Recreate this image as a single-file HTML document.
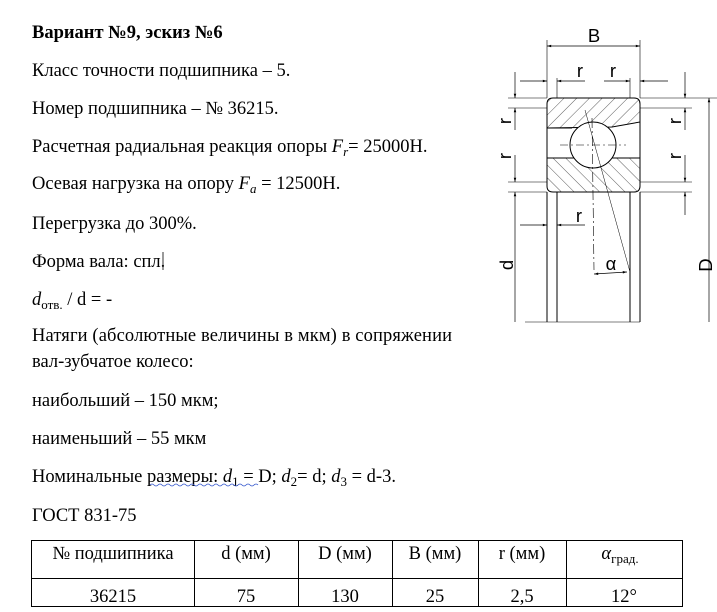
<!DOCTYPE html>
<html><head><meta charset="utf-8"><style>
html,body{margin:0;padding:0;background:#fff;width:717px;height:612px;overflow:hidden}
svg{display:block}
text{font-family:"Liberation Serif",serif;font-size:18.5px;fill:#000}
.s{font-family:"Liberation Sans",sans-serif}
</style></head><body>
<svg width="717" height="612" viewBox="0 0 717 612" xmlns="http://www.w3.org/2000/svg">
<defs>
<pattern id="h" patternUnits="userSpaceOnUse" width="9" height="9" patternTransform="rotate(45)">
<line x1="0" y1="0" x2="0" y2="9" stroke="#333" stroke-width="0.8"/></pattern>
<pattern id="h2" patternUnits="userSpaceOnUse" width="9" height="9" patternTransform="rotate(-45)">
<line x1="0" y1="0" x2="0" y2="9" stroke="#333" stroke-width="0.8"/></pattern>
<marker id="a" viewBox="0 0 10 10" refX="10" refY="5" markerWidth="8" markerHeight="6" orient="auto-start-reverse"><path d="M0,2 L10,5 L0,8z" fill="#000"/></marker>
</defs>
<text x="32" y="38" font-weight="bold">Вариант №9, эскиз №6</text>
<text x="32" y="76">Класс точности подшипника – 5.</text>
<text x="32" y="114">Номер подшипника –  № 36215.</text>
<text x="32" y="152">Расчетная радиальная реакция опоры <tspan font-style="italic">F<tspan font-size="13" dy="4">r</tspan></tspan><tspan dy="-4">= 25000Н.</tspan></text>
<text x="32" y="189">Осевая нагрузка на опору <tspan font-style="italic">F<tspan font-size="13" dy="4">a</tspan></tspan><tspan dy="-4"> = 12500Н.</tspan></text>
<text x="32" y="229">Перегрузка до 300%.</text>
<text x="32" y="267">Форма вала: спл.</text>
<line x1="163" y1="252" x2="163" y2="270" stroke="#000" stroke-width="0.8"/>
<text x="32" y="305"><tspan font-style="italic">d</tspan><tspan font-size="13" dy="4">отв.</tspan><tspan dy="-4"> / d = -</tspan></text>
<text x="32" y="341" textLength="420" lengthAdjust="spacing">Натяги (абсолютные величины в мкм) в сопряжении</text>
<text x="32" y="367">вал-зубчатое колесо:</text>
<text x="32" y="406">наибольший – 150 мкм;</text>
<text x="32" y="444">наименьший – 55 мкм</text>
<text x="32" y="482">Номинальные размеры: <tspan font-style="italic">d</tspan><tspan font-size="13" dy="4">1</tspan><tspan dy="-4"> = D; </tspan><tspan font-style="italic">d</tspan><tspan font-size="13" dy="4">2</tspan><tspan dy="-4">= d; </tspan><tspan font-style="italic">d</tspan><tspan font-size="13" dy="4">3</tspan><tspan dy="-4">  = d-3.</tspan></text>
<path d="M150,485 q2,-2 4,0 t4,0 t4,0 t4,0 t4,0 t4,0 t4,0 t4,0 t4,0 t4,0 t4,0 t4,0 t4,0 t4,0 t4,0 t4,0 t4,0 t4,0 t4,0 t4,0 t4,0 t4,0 t4,0 t4,0 t4,0 t4,0 t4,0" stroke="#3355cc" fill="none" stroke-width="0.8"/>
<text x="32" y="521">ГОСТ 831-75</text>
<g stroke="#000" stroke-width="1" fill="none">
<rect x="31.5" y="540.5" width="651" height="66"/>
<line x1="31" y1="578.5" x2="682" y2="578.5"/>
<line x1="194.5" y1="540" x2="194.5" y2="607"/>
<line x1="298.5" y1="540" x2="298.5" y2="607"/>
<line x1="392.5" y1="540" x2="392.5" y2="607"/>
<line x1="478.5" y1="540" x2="478.5" y2="607"/>
<line x1="566.5" y1="540" x2="566.5" y2="607"/>
</g>
<g text-anchor="middle">
<text x="113" y="559">№ подшипника</text><text x="246" y="559">d (мм)</text><text x="345" y="559">D (мм)</text><text x="435" y="559">B (мм)</text><text x="522" y="559">r (мм)</text>
<text x="620" y="559"><tspan font-style="italic">α</tspan><tspan font-size="13" dy="4">град.</tspan></text>
<text x="113" y="602">36215</text><text x="246" y="602">75</text><text x="345" y="602">130</text><text x="435" y="602">25</text><text x="522" y="602">2,5</text><text x="624" y="602">12°</text>
</g>
<!-- bearing drawing -->
<g stroke="#000" stroke-width="1" fill="none">
<path d="M547,128 L547,104 Q547,98 553,98 L634,98 Q640,98 640,104 L640,122 L612,127 L547,128 Z" fill="url(#h)"/>
<path d="M547,158 L640,158 L640,186 Q640,192 634,192 L553,192 Q547,192 547,186 Z" fill="url(#h2)"/>
<circle cx="593" cy="145" r="23" fill="#fff"/>
<line x1="547" y1="128" x2="547" y2="158"/>
<line x1="547" y1="128" x2="572" y2="128"/>
<line x1="640" y1="122" x2="640" y2="158"/>
<line x1="547" y1="192" x2="547" y2="322"/><line x1="557" y1="192" x2="557" y2="322"/>
<line x1="630" y1="192" x2="630" y2="322"/><line x1="640" y1="192" x2="640" y2="322"/>
<line x1="547" y1="98" x2="547" y2="40" stroke-width="0.6"/><line x1="640" y1="98" x2="640" y2="40" stroke-width="0.6"/>
<line x1="557" y1="98" x2="557" y2="78" stroke-width="0.6"/><line x1="630" y1="98" x2="630" y2="78" stroke-width="0.6"/>
<line x1="560" y1="145" x2="626" y2="145" stroke-width="0.6" stroke-dasharray="8,3,2,3"/>
<line x1="592" y1="118" x2="594" y2="270" stroke-width="0.6" stroke-dasharray="10,3,2,3"/>
<line x1="585" y1="110" x2="630" y2="272" stroke-width="0.5"/>
<line x1="547" y1="46" x2="640" y2="46" stroke-width="0.7" marker-start="url(#a)" marker-end="url(#a)"/>
<line x1="520" y1="81" x2="547" y2="81" stroke-width="0.7" marker-end="url(#a)"/>
<line x1="585" y1="81" x2="557" y2="81" stroke-width="0.7" marker-end="url(#a)"/>
<line x1="604" y1="81" x2="630" y2="81" stroke-width="0.7" marker-end="url(#a)"/>
<line x1="668" y1="81" x2="640" y2="81" stroke-width="0.7" marker-end="url(#a)"/>
<line x1="520" y1="225" x2="547" y2="225" stroke-width="0.7" marker-end="url(#a)"/>
<line x1="585" y1="225" x2="557" y2="225" stroke-width="0.7" marker-end="url(#a)"/>
<line x1="508" y1="98" x2="547" y2="98" stroke-width="0.6"/><line x1="508" y1="108" x2="547" y2="108" stroke-width="0.6"/>
<line x1="508" y1="182" x2="547" y2="182" stroke-width="0.6"/><line x1="508" y1="192" x2="547" y2="192" stroke-width="0.6"/>
<line x1="640" y1="98" x2="717" y2="98" stroke-width="0.6"/><line x1="640" y1="108" x2="692" y2="108" stroke-width="0.6"/>
<line x1="640" y1="182" x2="692" y2="182" stroke-width="0.6"/><line x1="640" y1="192" x2="692" y2="192" stroke-width="0.6"/>
<line x1="515" y1="72" x2="515" y2="98" stroke-width="0.7" marker-end="url(#a)"/>
<line x1="515" y1="130" x2="515" y2="108" stroke-width="0.7" marker-end="url(#a)"/>
<line x1="515" y1="155" x2="515" y2="182" stroke-width="0.7" marker-end="url(#a)"/>
<line x1="515" y1="322" x2="515" y2="192" stroke-width="0.7" marker-end="url(#a)"/>
<line x1="685" y1="72" x2="685" y2="98" stroke-width="0.7" marker-end="url(#a)"/>
<line x1="685" y1="130" x2="685" y2="108" stroke-width="0.7" marker-end="url(#a)"/>
<line x1="685" y1="155" x2="685" y2="182" stroke-width="0.7" marker-end="url(#a)"/>
<line x1="685" y1="215" x2="685" y2="192" stroke-width="0.7" marker-end="url(#a)"/>
<line x1="709" y1="322" x2="709" y2="98" stroke-width="0.7" marker-end="url(#a)"/>
<line x1="525" y1="322" x2="640" y2="322" stroke-width="0.6"/>
<line x1="594" y1="274" x2="627" y2="272" stroke-width="0.7" marker-start="url(#a)" marker-end="url(#a)"/>
</g>
<g>
<text class="s" x="594" y="42" font-size="28" text-anchor="middle">B</text>
<text class="s" x="580" y="77" font-size="30" text-anchor="middle">r</text>
<text class="s" x="613" y="77" font-size="30" text-anchor="middle">r</text>
<text class="s" x="579" y="222" font-size="30" text-anchor="middle">r</text>
<text class="s" x="611" y="270" font-size="22" text-anchor="middle">α</text>
<text class="s" font-size="30" transform="translate(511,121) rotate(-90)" text-anchor="middle">r</text>
<text class="s" font-size="30" transform="translate(511,156) rotate(-90)" text-anchor="middle">r</text>
<text class="s" font-size="30" transform="translate(681,121) rotate(-90)" text-anchor="middle">r</text>
<text class="s" font-size="30" transform="translate(681,156) rotate(-90)" text-anchor="middle">r</text>
<text class="s" font-size="28" transform="translate(513,265) rotate(-90)" text-anchor="middle">d</text>
<text class="s" font-size="30" transform="translate(712,265) rotate(-90)" text-anchor="middle">D</text>
</g>
</svg>
</body></html>
